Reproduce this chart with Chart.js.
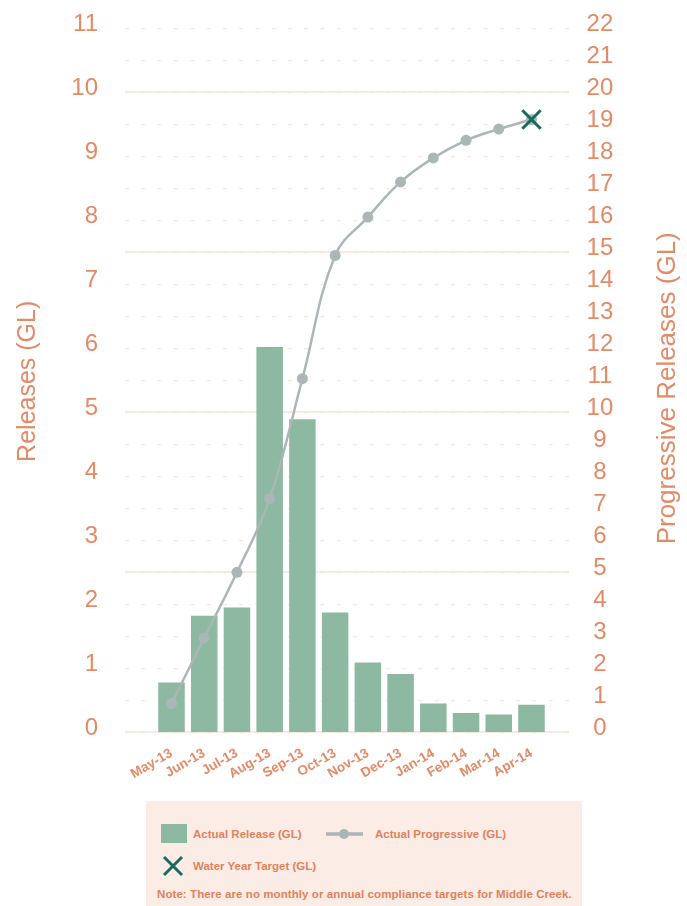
<!DOCTYPE html>
<html>
<head>
<meta charset="utf-8">
<script src="https://cdn.jsdelivr.net/npm/chart.js@4/dist/chart.umd.min.js"></script>
<style>
  html, body { margin: 0; padding: 0; background: #ffffff; }
  body { position: relative; width: 687px; height: 906px; overflow: hidden;
         font-family: "Liberation Sans", Arial, sans-serif; }
  #chart { position: absolute; left: 0; top: 0; }
  #legend { position: absolute; left: 146px; top: 801px; width: 436px; height: 105px;
            background: #fbece5; }
  #legend svg { position: absolute; left: 0; top: 0; }
  .lg { position: absolute; color: #e0825d; font-weight: bold; font-size: 11.5px;
        line-height: 14px; white-space: nowrap; }
  .note { letter-spacing: 0.08px; }
</style>
</head>
<body>
<canvas id="chart" width="687" height="795"></canvas>
<div id="legend">
  <svg width="436" height="105">
    <rect x="15" y="23" width="26" height="19" fill="#8db8a2"></rect>
    <line x1="180" y1="33" x2="217" y2="33" stroke="#aab6b5" stroke-width="3.5"></line>
    <circle cx="198" cy="33" r="5" fill="#aab6b5"></circle>
    <line x1="18" y1="56" x2="36" y2="74" stroke="#176b5e" stroke-width="3"></line>
    <line x1="36" y1="56" x2="18" y2="74" stroke="#176b5e" stroke-width="3"></line>
  </svg>
  <div class="lg" style="left:47px; top:26px;">Actual Release (GL)</div>
  <div class="lg" style="left:229px; top:26px;">Actual Progressive (GL)</div>
  <div class="lg" style="left:47px; top:58px;">Water Year Target (GL)</div>
  <div class="lg note" style="left:11px; top:86px;">Note: There are no monthly or annual compliance targets for Middle Creek.</div>
</div>
<script>
// Monthly releases for the water year, in gigalitres
const months = ['May-13', 'Jun-13', 'Jul-13', 'Aug-13', 'Sep-13', 'Oct-13',
                'Nov-13', 'Dec-13', 'Jan-14', 'Feb-14', 'Mar-14', 'Apr-14'];
const actualRelease = [0.78, 1.82, 1.95, 6.02, 4.89, 1.87, 1.09, 0.91, 0.45, 0.30, 0.28, 0.43];
const actualProgressive = [0.9, 2.95, 5.0, 7.3, 11.05, 14.9, 16.1, 17.2, 17.95, 18.5, 18.85, 19.15];
const waterYearTarget = [null, null, null, null, null, null, null, null, null, null, null, 19.15];

const monthIndex = [0, 1, 2, 3, 4, 5, 6, 7, 8, 9, 10, 11];
const leftTicks = [0, 1, 2, 3, 4, 5, 6, 7, 8, 9, 10, 11];
const rightTicks = [0, 1, 2, 3, 4, 5, 6, 7, 8, 9, 10, 11, 12, 13, 14, 15, 16, 17, 18, 19, 20, 21, 22];
const majorLines = [0, 5, 10, 15, 20];

const leftTitle = 'Releases (GL)';
const rightTitle = 'Progressive Releases (GL)';

const ORANGE = '#e38a67';
const GRID = '#fbe6dc';
const FONT = '"Liberation Sans", Arial, sans-serif';

const toPoints = arr => arr.map((v, i) => ({ x: monthIndex[i], y: v }));
const asTicks = arr => arr.map(v => ({ value: v }));

// Fixed axis box sizes; the plot area edges are set by layout padding alone
const fixWidth = w => s => { s.width = w; s.paddingTop = 0; s.paddingBottom = 0; };

// Rotated axis titles, both reading bottom-to-top
const axisTitles = {
  id: 'axisTitles',
  afterDraw(chart) {
    const { ctx, chartArea } = chart;
    const mid = (chartArea.top + chartArea.bottom) / 2;
    ctx.save();
    ctx.fillStyle = ORANGE;
    ctx.textAlign = 'center';
    ctx.textBaseline = 'middle';
    ctx.font = '25px ' + FONT;
    ctx.translate(28, mid + 1);
    ctx.rotate(-Math.PI / 2);
    ctx.fillText(leftTitle, 0, 0);
    ctx.restore();

    ctx.save();
    ctx.fillStyle = ORANGE;
    ctx.textAlign = 'center';
    ctx.textBaseline = 'middle';
    ctx.font = '26px ' + FONT;
    ctx.translate(668, mid + 8);
    ctx.rotate(-Math.PI / 2);
    ctx.fillText(rightTitle, 0, 0);
    ctx.restore();
  }
};

new Chart(document.getElementById('chart'), {
  type: 'bar',
  data: {
    datasets: [
      {
        type: 'line',
        label: 'Water Year Target (GL)',
        data: toPoints(waterYearTarget),
        yAxisID: 'y1',
        showLine: false,
        pointStyle: 'crossRot',
        pointRadius: 13,
        pointBorderWidth: 3,
        pointBorderColor: '#176b5e',
        pointBackgroundColor: '#176b5e',
        order: 1
      },
      {
        type: 'line',
        label: 'Actual Progressive (GL)',
        data: toPoints(actualProgressive),
        yAxisID: 'y1',
        borderColor: '#abb7b6',
        backgroundColor: '#abb7b6',
        borderWidth: 2.5,
        tension: 0.4,
        pointRadius: 5.5,
        pointBorderWidth: 0,
        pointBackgroundColor: '#abb7b6',
        order: 2
      },
      {
        type: 'bar',
        label: 'Actual Release (GL)',
        data: toPoints(actualRelease),
        yAxisID: 'y',
        backgroundColor: '#8db8a2',
        borderWidth: 0,
        barPercentage: 1,
        categoryPercentage: 0.81,
        order: 3
      }
    ]
  },
  options: {
    responsive: false,
    animation: false,
    devicePixelRatio: 1,
    layout: { padding: { top: 28.3, left: 0, right: 0, bottom: 0 } },
    plugins: { legend: { display: false }, tooltip: { enabled: false } },
    scales: {
      x: {
        type: 'linear',
        min: -1.421,
        max: 12.146,
        offset: false,
        grid: { display: false },
        border: { display: false },
        afterBuildTicks: s => { s.ticks = asTicks(monthIndex); },
        afterFit: s => { s.height = 795 - 732.3; s.paddingLeft = 0; s.paddingRight = 0; },
        ticks: {
          autoSkip: false,
          minRotation: 30,
          maxRotation: 30,
          padding: 5,
          color: ORANGE,
          font: { family: FONT, size: 13.5, weight: 'bold' },
          callback: v => months[v]
        }
      },
      y: {
        position: 'left',
        min: 0,
        max: 11,
        grid: { display: false, drawTicks: false },
        border: { display: false },
        afterBuildTicks: s => { s.ticks = asTicks(leftTicks); },
        afterFit: fixWidth(125),
        ticks: {
          autoSkip: false,
          padding: 27,
          labelOffset: -4,
          color: ORANGE,
          font: { family: FONT, size: 24 }
        }
      },
      y1: {
        position: 'right',
        min: 0,
        max: 22,
        border: { display: false, dash: [4, 12.3] },
        grid: { color: GRID, lineWidth: 1.3, drawTicks: false },
        afterBuildTicks: s => { s.ticks = asTicks(rightTicks); },
        afterFit: fixWidth(118),
        ticks: {
          autoSkip: false,
          padding: 17.6,
          crossAlign: 'center',
          labelOffset: -4,
          color: ORANGE,
          font: { family: FONT, size: 24 }
        }
      },
      y2: {
        position: 'right',
        min: 0,
        max: 22,
        border: { display: false },
        grid: { color: GRID, lineWidth: 1.8, drawTicks: false },
        afterBuildTicks: s => { s.ticks = asTicks(majorLines); },
        afterFit: fixWidth(0),
        ticks: { display: false, autoSkip: false }
      }
    }
  },
  plugins: [axisTitles]
});
</script>
</body>
</html>
